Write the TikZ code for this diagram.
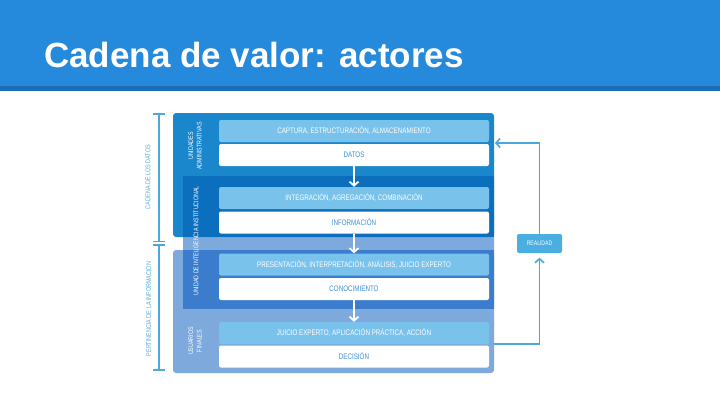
\documentclass[tikz,border=0pt]{standalone}
\usepackage{fontspec}
\setmainfont{Liberation Sans}
\newfontfamily\narrowf[FakeStretch=0.78]{Liberation Sans}
\usetikzlibrary{arrows.meta}
\definecolor{titlebar}{HTML}{2589DC}
\definecolor{titlestripe}{HTML}{1D6DB5}
\definecolor{layA}{HTML}{1A86CC}
\definecolor{layAB}{HTML}{0C6FBE}
\definecolor{layLight}{HTML}{7EA9DC}
\definecolor{layBC}{HTML}{3B7DCC}
\definecolor{lightbox}{HTML}{78C2EC}
\definecolor{restext}{HTML}{3D8FD4}
\definecolor{connc}{HTML}{4AA8DC}
\definecolor{realc}{HTML}{4AAEE0}
\definecolor{sidetext}{HTML}{5AAEE0}
\begin{document}
\begin{tikzpicture}[x=1pt,y=-1pt,
  procbox/.style={fill=lightbox, rounded corners=2pt, minimum width=270pt, minimum height=22pt, inner sep=0pt, text=white, font=\narrowf\fontsize{8}{9}\selectfont},
  resbox/.style={procbox, fill=white, text=restext},
  chain/.style={draw=white, line width=1.8pt, -{Straight Barb[length=4pt,width=9pt]}},
  conn/.style={draw=connc, line width=1.6pt, -{Straight Barb[length=4pt,width=9pt]}},
  realbox/.style={fill=realc, rounded corners=2pt, minimum width=45pt, minimum height=19pt, inner sep=0pt, text=white, font=\narrowf\fontsize{6.5}{7}\selectfont},
  laylabel/.style={rotate=90, text=white, align=center, inner sep=0pt, font=\narrowf\fontsize{6.8}{8.5}\selectfont},
  sidelabel/.style={rotate=90, text=sidetext, inner sep=0pt, font=\narrowf\fontsize{7}{8}\selectfont},
  scaleline/.style={draw=connc, line width=1.3pt}
]
\useasboundingbox (0,0) rectangle (720,405);
\fill[white] (0,0) rectangle (720,405);
% title bar
\fill[titlebar] (0,0) rectangle (720,86);
\fill[titlestripe] (0,86) rectangle (720,90.5);
\node[anchor=base west, text=white, inner sep=0pt, font=\bfseries\fontsize{35}{40}\selectfont] (title) at (44,67.5) {Cadena de valor: actores};
% layers
\fill[layLight, rounded corners=3pt] (183,176) rectangle (494,310);
\fill[layLight, rounded corners=3pt] (173,250) rectangle (494,373);
\fill[layA, rounded corners=3pt] (173,113) rectangle (494,237);
\fill[layAB] (183,176) rectangle (494,237);
\fill[layBC] (183,250) rectangle (494,309);
% layer labels
\node[laylabel] (lua) at (195,146) {UNIDADES\\ADMINISTRATIVAS};
\node[laylabel] (lui) at (196,241) {UNIDAD DE INTELIGENCIA INSTITUCIONAL};
\node[laylabel] (luf) at (195,341) {USUARIOS\\FINALES};
% process boxes
\node[procbox] (p1) at (354,131) {CAPTURA, ESTRUCTURACIÓN, ALMACENAMIENTO};
\node[resbox]  (r1) at (354,155) {DATOS};
\node[procbox] (p2) at (354,198) {INTEGRACIÓN, AGREGACIÓN, COMBINACIÓN};
\node[resbox]  (r2) at (354,222.5) {INFORMACIÓN};
\node[procbox] (p3) at (354,264.5) {PRESENTACIÓN, INTERPRETACIÓN, ANÁLISIS, JUICIO EXPERTO};
\node[resbox]  (r3) at (354,289) {CONOCIMIENTO};
\node[procbox] (p4) at (354,333) {JUICIO EXPERTO, APLICACIÓN PRÁCTICA, ACCIÓN};
\node[resbox]  (r4) at (354,356.5) {DECISIÓN};
\draw[chain] (r1.south) -- (p2.north);
\draw[chain] (r2.south) -- (p3.north);
\draw[chain] (r3.south) -- (p4.north);
% realidad loop
\node[realbox] (real) at (539.5,243.5) {REALIDAD};
\coordinate (inA) at (495,143);
\coordinate (outC) at (494,344);
\draw[conn] (real.north) |- (inA);
\draw[conn, shorten >=4.5pt] (outC) -| (real.south);
% side scales
\draw[scaleline] (159,114) -- (159,241.5);
\draw[scaleline] (153,114) -- (165,114);
\draw[scaleline] (153,241.5) -- (165,241.5);
\draw[scaleline] (153,245) -- (165,245);
\draw[scaleline] (159,245) -- (159,370);
\draw[scaleline] (153,370) -- (165,370);
\node[sidelabel] (sd) at (148,177) {CADENA DE LOS DATOS};
\node[sidelabel] (sp) at (148,309) {PERTINENCIA DE LA INFORMACIÓN};
\end{tikzpicture}
\end{document}
